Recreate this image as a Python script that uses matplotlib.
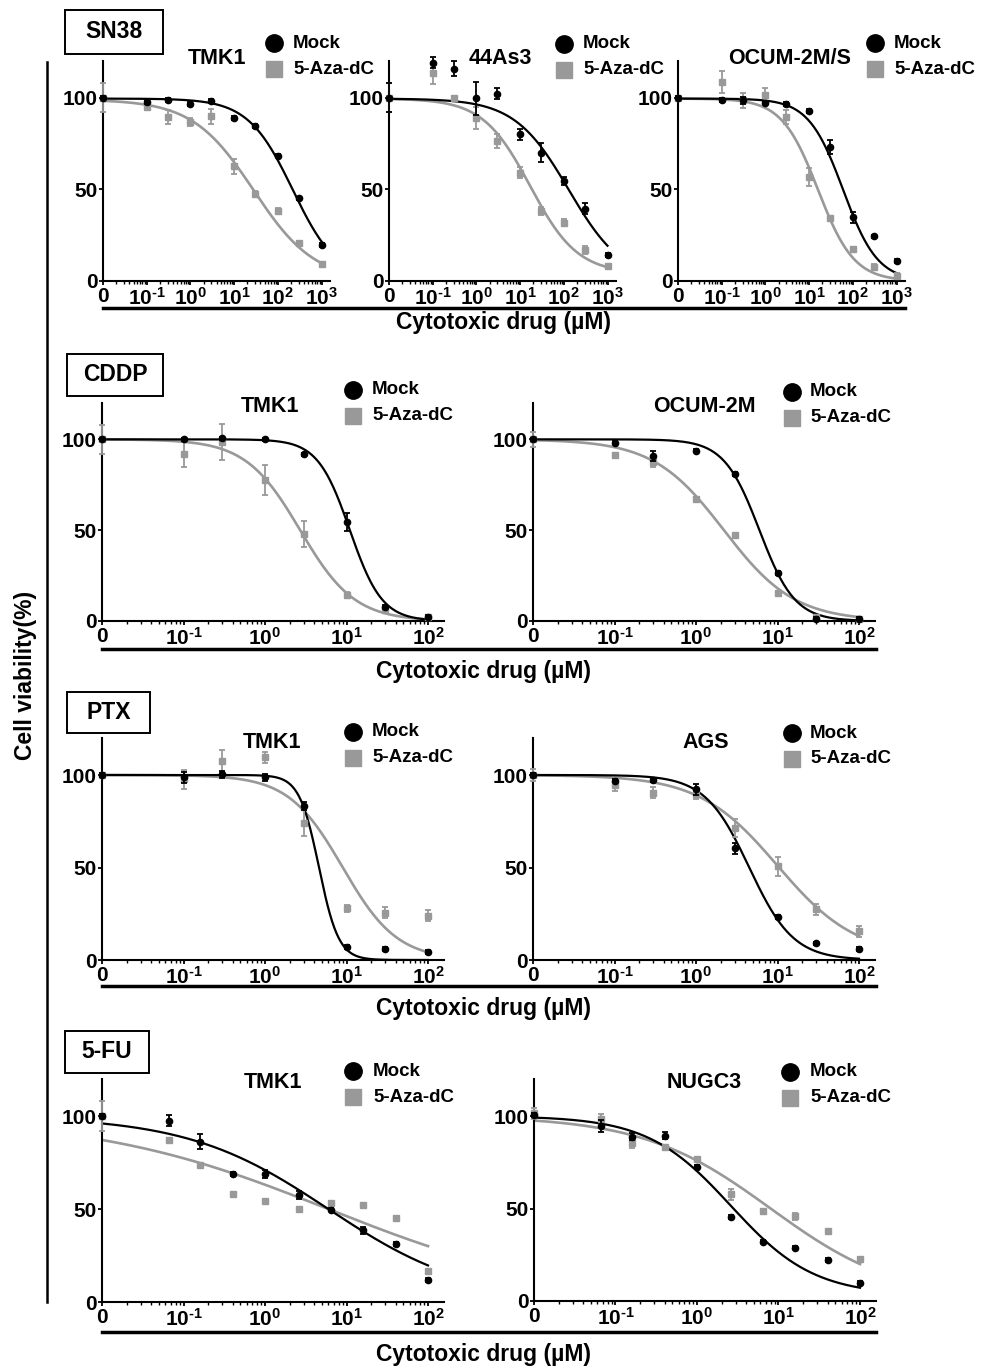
import numpy as np
import matplotlib
matplotlib.use('Agg')
import matplotlib.pyplot as plt
from matplotlib.lines import Line2D
from matplotlib.patches import Rectangle
from matplotlib.ticker import FixedLocator, FixedFormatter, LogLocator, NullFormatter

plt.rcParams['font.family'] = ['Liberation Sans', 'DejaVu Sans']
plt.rcParams['font.weight'] = 'bold'
plt.rcParams['mathtext.fontset'] = 'custom'
plt.rcParams['mathtext.rm'] = 'Liberation Sans:bold'
plt.rcParams['mathtext.it'] = 'Liberation Sans:bold'
plt.rcParams['mathtext.bf'] = 'Liberation Sans:bold'

BLACK = '#000000'
GRAY = '#999999'
W, H = 986, 1366

# ---- data (uM, % viability) ----
# 0 uM is drawn in the "0" slot, one decade left of 10^-1
conc_sn38 = [0, 0.1, 0.3, 1, 3, 10, 30, 100, 300, 1000]
conc_cddp = [0, 0.1, 0.3, 1, 3, 10, 30, 100]
conc_ptx = [0, 0.1, 0.3, 1, 3, 10, 30, 100]
conc_5fu = [0, 0.066, 0.16, 0.41, 1.0, 2.6, 6.4, 16, 40, 100]

sn38_tmk1_mock = [100, 97.6, 98.9, 96.4, 98, 89, 84.4, 68.4, 45, 19.8]
sn38_tmk1_mock_err = [1, 1, 1, 1, 1, 1, 1, 1, 1, 1]
sn38_tmk1_aza = [100, 95, 89.5, 86.8, 89.8, 62.6, 47.4, 38.3, 20.9, 9.1]
sn38_tmk1_aza_err = [8, 1.5, 4, 2, 4, 4, 1.5, 1.5, 1, 1]

sn38_44as3_mock = [100, 119, 115.8, 99.6, 102, 80, 70, 54.5, 39.5, 14.2]
sn38_44as3_mock_err = [8, 3, 4, 9, 3, 3, 5, 2, 3, 1]
sn38_44as3_aza = [100, 113.6, 100, 89, 76.4, 59, 38.2, 31.8, 16.9, 8.2]
sn38_44as3_aza_err = [8, 6, 1, 6, 4, 3, 2, 2, 2, 1]

sn38_ocum_mock = [100, 98.9, 98.5, 97.3, 96.7, 92.7, 73, 34.7, 24.3, 11]
sn38_ocum_mock_err = [1, 1, 2, 1, 1, 1, 4, 3, 1, 1]
sn38_ocum_aza = [100, 108.6, 98.5, 101.3, 89.4, 56.6, 34.3, 17.3, 7.8, 2.7]
sn38_ocum_aza_err = [1, 6, 4, 4, 4, 5, 1, 1, 1.5, 1.5]

cddp_tmk1_mock = [100, 100, 100.5, 100, 91.7, 54.6, 7.7, 2.2]
cddp_tmk1_mock_err = [1, 1, 1, 1, 1, 5, 1, 1]
cddp_tmk1_aza = [100, 91.9, 98.7, 77.6, 48, 14.2, 5.9, 2.2]
cddp_tmk1_aza_err = [8, 7, 10, 8, 7, 1.5, 1, 1]

cddp_ocum_mock = [100, 98.2, 90.8, 93.8, 80.9, 26.5, 1.3, 1.3]
cddp_ocum_mock_err = [1, 1, 3, 1, 1, 1, 1, 1]
cddp_ocum_aza = [100, 91.4, 87.7, 67.1, 47.6, 15.4, 2.2, 1.3]
cddp_ocum_aza_err = [4, 1, 3, 1, 1, 1, 1, 1]

ptx_tmk1_mock = [100, 98.7, 100.4, 98.7, 83.2, 7.2, 5.8, 4.5]
ptx_tmk1_mock_err = [1, 3, 2, 2, 2, 1, 1, 1]
ptx_tmk1_aza = [100, 97.7, 107.7, 109.5, 73.9, 27.9, 25.6, 23.9]
ptx_tmk1_aza_err = [1, 5, 6, 3, 7, 2, 3, 3]

ptx_ags_mock = [100, 97, 97.3, 92.3, 60.5, 23.2, 9, 6.1]
ptx_ags_mock_err = [1, 1, 1, 3, 3, 1, 1, 1]
ptx_ags_aza = [100, 94.6, 90.5, 89.8, 71.3, 50.6, 27.3, 15.6]
ptx_ags_aza_err = [3, 3, 3, 3, 5, 5, 3, 3]

fu_tmk1_mock = [100, 97.5, 86.2, 68.8, 68.8, 57.5, 49.7, 38.6, 31.4, 12]
fu_tmk1_mock_err = [1, 3, 4, 1, 2, 2, 1, 2, 1, 1]
fu_tmk1_aza = [100, 87.4, 73.6, 58.3, 54.4, 50.3, 53.3, 52.4, 45.4, 16.7]
fu_tmk1_aza_err = [8, 1, 1, 1, 1, 1, 1, 1, 1, 1]

fu_nugc3_mock = [100.5, 94.6, 88.8, 89.4, 72.6, 45.5, 32.1, 28.9, 22, 9.7]
fu_nugc3_mock_err = [1, 3, 2, 2, 1, 1, 1, 1, 1, 1]
fu_nugc3_aza = [101.4, 98.2, 85.6, 83, 76.5, 57.8, 48.6, 45.8, 37.9, 22.6]
fu_nugc3_aza_err = [3, 3, 3, 1, 1, 3, 1, 2, 1, 1]

# fitted 4-parameter logistic curves: top, bottom, IC50, hill
fit_sn38_tmk1 = [(99.5, 0, 220, 0.85), (99, 0, 28, 0.62)]
fit_sn38_44as3 = [(99.5, 0, 130, 0.7), (99.5, 4, 17, 0.8)]
fit_sn38_ocum = [(99.5, 0, 60, 1.1), (99.5, 0, 16, 1.05)]
fit_cddp_tmk1 = [(100, 0, 11, 2.2), (100, 0, 2.7, 1.3)]
fit_cddp_ocum = [(100, 0, 6, 2.0), (100, 0, 2.2, 1.0)]
fit_ptx_tmk1 = [(100, 0, 4.6, 3.6), (100, 0, 9, 1.3)]
fit_ptx_ags = [(100, 0, 4.5, 1.6), (100, 2, 10, 0.9)]
fit_fu_tmk1 = [(100, 0, 6, 0.5), (100, 0, 6, 0.3)]
fit_fu_nugc3 = [(100, 3, 2.6, 0.85), (100, 0, 8, 0.55)]

ZERO = 1e-2
TICK_FS = 15
LEG_FS = 13.5
TITLE_FS = 15.5


def px_rect(left, right, top, bottom):
    return [left / W, 1 - bottom / H, (right - left) / W, (bottom - top) / H]


def logistic(x, p):
    top, bottom, ic50, hill = p
    return bottom + (top - bottom) / (1 + (x / ic50) ** hill)


def decade_label(d):
    if d < 0:
        return r'$10^{\text{-}%d}$' % (-d)
    return r'$10^{%d}$' % d


def panel(fig, rect, conc, mock, mock_err, aza, aza_err, fit, xmax_dec, title, title_xy, leg_xy, leg_dx):
    ax = fig.add_axes(rect)
    x = np.array(conc, dtype=float)
    x[x == 0] = ZERO
    xs = np.logspace(-2, np.log10(max(conc)), 300)

    ax.plot(xs, logistic(xs, fit[1]), color=GRAY, lw=1.9, zorder=2)
    ax.plot(xs, logistic(xs, fit[0]), color=BLACK, lw=1.6, zorder=3)
    ax.errorbar(x, aza, yerr=aza_err, fmt='s', color=GRAY, ms=5, elinewidth=1.3,
                capsize=2, capthick=1.3, zorder=4, clip_on=False)
    ax.errorbar(x, mock, yerr=mock_err, fmt='o', color=BLACK, ms=4.5, elinewidth=1.3,
                capsize=2, capthick=1.3, zorder=5, clip_on=False)

    ax.set_xscale('log')
    ax.set_xlim(ZERO, 10 ** xmax_dec)
    ax.set_ylim(0, 120)
    top_dec = int(np.floor(xmax_dec + 1e-9))
    majors = [10.0 ** d for d in range(-2, top_dec + 1)]
    labels = ['0'] + [decade_label(d) for d in range(-1, top_dec + 1)]
    ax.xaxis.set_major_locator(FixedLocator(majors))
    ax.xaxis.set_major_formatter(FixedFormatter(labels))
    ax.xaxis.set_minor_locator(LogLocator(base=10, subs=np.arange(2, 10), numticks=20))
    ax.xaxis.set_minor_formatter(NullFormatter())
    ax.set_yticks([0, 50, 100])
    ax.set_yticklabels(['0', '50', '100'])
    ax.tick_params(axis='both', labelsize=TICK_FS, width=1.3, length=3, pad=1, direction='out')
    ax.tick_params(axis='x', which='minor', width=1.0, length=2.5)
    for s in ['top', 'right']:
        ax.spines[s].set_visible(False)
    for s in ['left', 'bottom']:
        ax.spines[s].set_linewidth(1.5)
    ax.patch.set_alpha(0)

    fig.text(title_xy[0] / W, 1 - title_xy[1] / H, title, fontsize=TITLE_FS, fontweight='bold',
             ha='center', va='center')
    # legend swatches
    lx, ly = leg_xy
    fig.add_artist(Line2D([lx / W], [1 - ly / H], marker='o', color=BLACK, ms=12.5, ls='none'))
    fig.add_artist(Line2D([lx / W], [1 - (ly + 26) / H], marker='s', color=GRAY, ms=12, ls='none'))
    fig.text((lx + leg_dx) / W, 1 - ly / H, 'Mock', fontsize=LEG_FS, fontweight='bold', va='center')
    fig.text((lx + leg_dx) / W, 1 - (ly + 26) / H, '5-Aza-dC', fontsize=LEG_FS, fontweight='bold', va='center')
    return ax


def drug_box(fig, x0, y0, x1, y1, name):
    fig.add_artist(Rectangle((x0 / W, 1 - y1 / H), (x1 - x0) / W, (y1 - y0) / H,
                             transform=fig.transFigure, fill=False, lw=1.4, ec=BLACK))
    fig.text((x0 + x1) / 2 / W, 1 - (y0 + y1) / 2 / H, name, fontsize=16.5, fontweight='bold',
             ha='center', va='center')


def underline(fig, x0, x1, y, lx, ly):
    fig.add_artist(Line2D([x0 / W, x1 / W], [1 - y / H] * 2, color=BLACK, lw=2.5))
    fig.text(lx / W, 1 - ly / H, 'Cytotoxic drug (\u00b5M)', fontsize=16.5, fontweight='bold',
             ha='center', va='center')


fig = plt.figure(figsize=(W / 100, H / 100), dpi=100)

# SN38 row
w1 = 5.2 * 43.7
panel(fig, px_rect(103, 103 + w1, 61, 281), conc_sn38, sn38_tmk1_mock, sn38_tmk1_mock_err,
      sn38_tmk1_aza, sn38_tmk1_aza_err, fit_sn38_tmk1, 3.2, 'TMK1', (217, 58), (274, 43), 19)
panel(fig, px_rect(389, 389 + w1, 61, 281), conc_sn38, sn38_44as3_mock, sn38_44as3_mock_err,
      sn38_44as3_aza, sn38_44as3_aza_err, fit_sn38_44as3, 3.2, '44As3', (500, 58), (564, 44), 19)
panel(fig, px_rect(678, 678 + w1, 61, 281), conc_sn38, sn38_ocum_mock, sn38_ocum_mock_err,
      sn38_ocum_aza, sn38_ocum_aza_err, fit_sn38_ocum, 3.2, 'OCUM-2M/S', (790, 58), (875, 43), 19)
drug_box(fig, 65, 10, 163, 54, 'SN38')
underline(fig, 103, 905, 308, 503, 323)

# CDDP row
w2 = 4.2 * 81.5
panel(fig, px_rect(102, 102 + w2, 403, 621), conc_cddp, cddp_tmk1_mock, cddp_tmk1_mock_err,
      cddp_tmk1_aza, cddp_tmk1_aza_err, fit_cddp_tmk1, 2.2, 'TMK1', (270, 407), (353, 390), 19)
panel(fig, px_rect(533, 533 + w2, 403, 621), conc_cddp, cddp_ocum_mock, cddp_ocum_mock_err,
      cddp_ocum_aza, cddp_ocum_aza_err, fit_cddp_ocum, 2.2, 'OCUM-2M', (704, 407), (792, 392), 18)
drug_box(fig, 67, 354, 163, 396, 'CDDP')
underline(fig, 102, 876, 649, 484, 671)

# PTX row
panel(fig, px_rect(102, 102 + w2, 738, 960), conc_ptx, ptx_tmk1_mock, ptx_tmk1_mock_err,
      ptx_tmk1_aza, ptx_tmk1_aza_err, fit_ptx_tmk1, 2.2, 'TMK1', (272, 742), (353, 732), 19)
panel(fig, px_rect(533, 533 + w2, 738, 960), conc_ptx, ptx_ags_mock, ptx_ags_mock_err,
      ptx_ags_aza, ptx_ags_aza_err, fit_ptx_ags, 2.2, 'AGS', (706, 742), (792, 733), 18)
drug_box(fig, 67, 692, 150, 733, 'PTX')
underline(fig, 102, 876, 986, 484, 1008)

# 5-FU row
panel(fig, px_rect(102, 102 + w2, 1079, 1302), conc_5fu, fu_tmk1_mock, fu_tmk1_mock_err,
      fu_tmk1_aza, fu_tmk1_aza_err, fit_fu_tmk1, 2.2, 'TMK1', (273, 1082), (353, 1071), 20)
panel(fig, px_rect(534, 534 + w2, 1079, 1301), conc_5fu, fu_nugc3_mock, fu_nugc3_mock_err,
      fu_nugc3_aza, fu_nugc3_aza_err, fit_fu_nugc3, 2.2, 'NUGC3', (704, 1083), (790, 1072), 20)
drug_box(fig, 65, 1031, 149, 1073, '5-FU')
underline(fig, 102, 876, 1332, 484, 1354)

# shared y label + bracket line
fig.add_artist(Line2D([47 / W, 47 / W], [1 - 62 / H, 1 - 1302 / H], color=BLACK, lw=1.8))
fig.text(26 / W, 1 - 675 / H, 'Cell viability(%)', rotation=90, fontsize=16.5, fontweight='bold',
         ha='center', va='center')

fig.savefig('out.png', dpi=100)
